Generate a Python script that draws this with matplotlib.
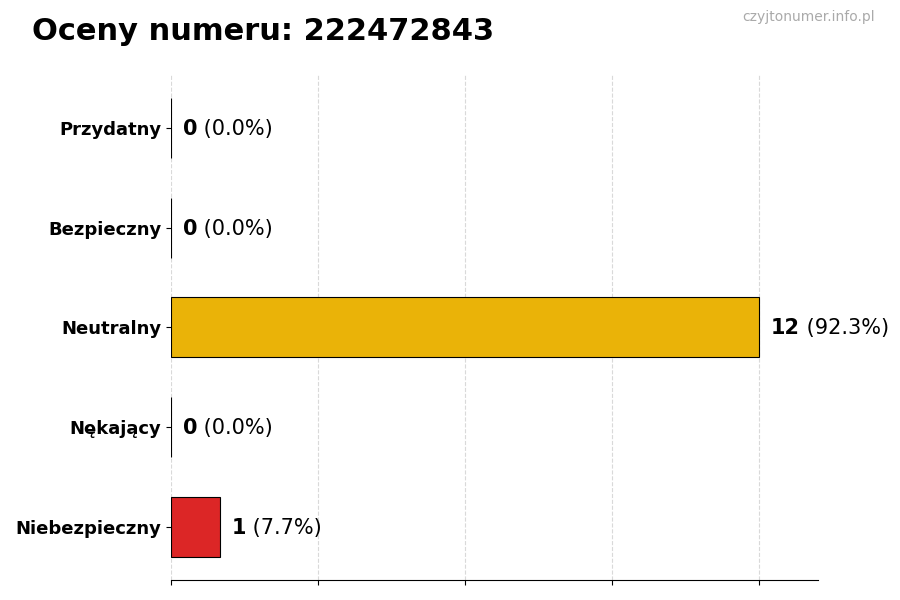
import matplotlib
matplotlib.use('Agg')
import matplotlib.pyplot as plt

# data
categories = ['Przydatny', 'Bezpieczny', 'Neutralny', 'Nękający', 'Niebezpieczny']
counts = [0, 0, 12, 0, 1]
colours = ['#22a34a', '#3b82f6', '#eab308', '#f97316', '#dc2626']
phone = '222472843'

total = sum(counts)
ypos = list(range(len(categories)))[::-1]

fig = plt.figure(figsize=(9, 6), dpi=100)
ax = fig.add_axes([0.19, 0.0333, 0.719, 0.842])

ax.barh(ypos, counts, height=0.6, color=colours, edgecolor='black', linewidth=0.8, zorder=3)

# bold count followed by the percentage in normal weight
for y, c in zip(ypos, counts):
    pct = 100.0 * c / total if total else 0.0
    t1 = ax.annotate(f'{c}', xy=(c, y), xytext=(8.5, -0.7), textcoords='offset points',
                     va='center', ha='left', fontsize=15, fontweight='bold')
    ax.annotate(f' ({pct:.1f}%)', xycoords=t1, xy=(1, 0.5), va='center', ha='left', fontsize=15)

ax.set_yticks(ypos)
ax.set_yticklabels(categories, fontsize=13, fontweight='bold')
ax.set_xticks([0, 3, 6, 9, 12])
ax.set_xticklabels([])
ax.set_xlim(0, max(counts) * 1.1)

ax.grid(axis='x', linestyle='--', color='#d9d9d9', linewidth=0.8, zorder=0)
ax.set_axisbelow(True)
for s in ['top', 'right', 'left']:
    ax.spines[s].set_visible(False)

fig.text(0.035, 0.948, f'Oceny numeru: {phone}', fontsize=22, fontweight='bold', va='center', ha='left')
fig.text(0.972, 0.971, 'czyjtonumer.info.pl', fontsize=10, color='#aaaaaa', va='center', ha='right')

fig.savefig('out.png', dpi=100)
